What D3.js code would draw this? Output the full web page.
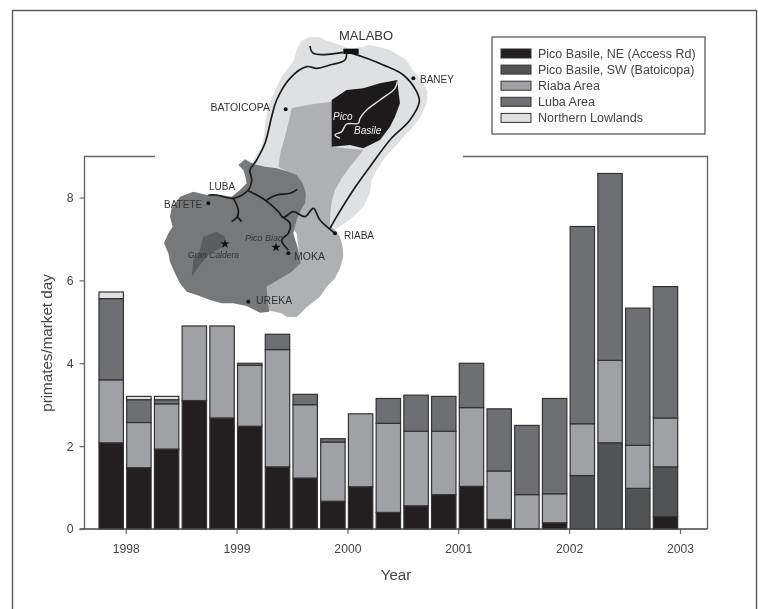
<!DOCTYPE html>
<html>
<head>
<meta charset="utf-8">
<script src="https://d3js.org/d3.v7.min.js"></script>
<style>
  html, body { margin: 0; padding: 0; background: #fff; }
  svg { display: block; filter: blur(0.6px); font-family: "Liberation Sans", Arial, sans-serif; }
</style>
</head>
<body>
<div id="chart"></div>
<script>
// quarter each bar starts at, one bar per 3 months
const quarters = [1997.75,
  1998, 1998.25, 1998.5, 1998.75,
  1999, 1999.25, 1999.5, 1999.75,
  2000, 2000.25, 2000.5, 2000.75,
  2001, 2001.25, 2001.5, 2001.75,
  2002, 2002.25, 2002.5, 2002.75];

const neAccess  = [2.08, 1.48, 1.93, 3.10, 2.68, 2.48, 1.50, 1.23, 0.67, 1.02, 0.40, 0.56, 0.83, 1.03, 0.23, 0, 0.15, 0, 0, 0, 0.30];
const swBatoi   = [0, 0, 0, 0, 0, 0, 0, 0, 0, 0, 0, 0, 0, 0, 0, 0, 0, 1.29, 2.08, 0.98, 1.20];
const riaba     = [1.52, 1.09, 1.09, 1.80, 2.22, 1.47, 2.83, 1.77, 1.43, 1.76, 2.15, 1.80, 1.53, 1.90, 1.17, 0.83, 0.70, 1.25, 1.99, 1.04, 1.18];
const luba      = [1.96, 0.55, 0.10, 0, 0, 0.05, 0.37, 0.25, 0.08, 0, 0.60, 0.87, 0.84, 1.07, 1.50, 1.67, 2.30, 4.76, 4.51, 3.31, 3.17];
const northern  = [0.16, 0.08, 0.08, 0, 0, 0, 0, 0, 0, 0, 0, 0, 0, 0, 0, 0, 0, 0, 0, 0, 0];

const seriesNames = ["Pico Basile, NE (Access Rd)", "Pico Basile, SW (Batoicopa)", "Riaba Area", "Luba Area", "Northern Lowlands"];
const seriesColors = ["#231f20", "#525355", "#a0a1a4", "#6e6f72", "#dfe0e2"];
const seriesValues = [neAccess, swBatoi, riaba, luba, northern];

const yearTicks = [1998, 1999, 2000, 2001, 2002, 2003];
const valueTicks = [0, 2, 4, 6, 8];

// map outlines
const lowlandsShape = [[440,88],[455,62],[480,50],[510,52],[530,62],[570,75],[600,88],[630,82],[660,75],[690,82],[720,90],[750,108],[770,120],[785,145],[800,165],[822,190],[832,215],[830,250],[815,285],[790,320],[765,345],[745,370],[720,395],[700,420],[680,450],[665,480],[660,520],[640,560],[610,590],[585,610],[560,625],[500,600],[400,500],[300,440],[318,405],[335,380],[342,345],[345,310],[352,275],[358,250],[380,200],[395,170],[410,150],[432,120]];
const riabaShape = [[425,265],[470,255],[510,250],[545,245],[545,380],[640,390],[600,440],[575,475],[555,510],[545,545],[540,590],[540,615],[555,630],[570,650],[578,680],[580,710],[570,745],[555,775],[530,800],[510,830],[485,850],[470,862],[440,892],[410,890],[395,880],[358,872],[350,800],[420,750],[450,720],[440,640],[410,600],[470,520],[440,470],[385,440],[392,395],[405,350],[415,310]];
const lubaShape = [[285,418],[310,432],[345,440],[380,445],[415,455],[440,465],[458,490],[468,520],[465,550],[450,575],[440,600],[430,640],[445,690],[452,730],[425,755],[400,770],[350,800],[358,875],[330,878],[290,858],[250,850],[215,850],[180,840],[140,825],[110,815],[90,790],[75,760],[60,725],[55,700],[42,670],[55,640],[68,620],[60,590],[65,565],[90,530],[130,515],[170,525],[210,525],[245,530],[270,510],[290,490],[285,465],[280,450],[265,435]];
const calderaShape = [[150,690],[160,650],[200,635],[225,650],[220,680],[180,700],[150,735],[125,770],[130,720]];
const picoShape = [[545,240],[590,210],[640,205],[690,190],[742,180],[745,210],[750,250],[735,290],[720,320],[690,360],[640,385],[600,375],[545,380]];

const roads = [
  [[590,95],[585,120],[540,135],[500,145],[470,140],[420,175],[380,240],[365,290],[345,370],[320,420],[300,450],[305,480],[295,510],[250,535],[200,525],[175,525]],
  [[590,95],[650,115],[700,135],[760,165],[800,215],[808,245],[780,300],[720,360],[660,440],[610,510],[560,590],[540,625]],
  [[480,78],[490,100],[580,97]],
  [[295,512],[345,540],[385,575],[400,592],[430,575],[465,590],[490,565],[510,600],[555,640]],
  [[350,540],[380,525],[420,520],[442,508]],
  [[395,590],[420,610],[415,640],[395,660],[415,690]],
  [[250,535],[265,570],[262,590],[245,605]],
  [[262,590],[275,605]]
];
const picoRoad = [[742,185],[735,205],[690,240],[650,270],[630,295],[625,310],[590,312],[575,335],[555,345],[570,355]];

const mapLabels = [
  { text: "MALABO", x: 366, y: 40, size: 13, anchor: "middle" },
  { text: "BANEY", x: 420, y: 83, size: 10, anchor: "start" },
  { text: "BATOICOPA", x: 270, y: 111, size: 10.5, anchor: "end" },
  { text: "LUBA", x: 209, y: 190, size: 10, anchor: "start" },
  { text: "BATETE", x: 164, y: 208, size: 10, anchor: "start" },
  { text: "RIABA", x: 344, y: 239, size: 10, anchor: "start" },
  { text: "MOKA", x: 294, y: 260, size: 10.5, anchor: "start" },
  { text: "UREKA", x: 256, y: 304, size: 10.5, anchor: "start" },
  { text: "Pico Biao", x: 245, y: 241, size: 9, anchor: "start", italic: true },
  { text: "Gran Caldera", x: 188, y: 258, size: 8.5, anchor: "start", italic: true },
  { text: "Pico", x: 333, y: 120, size: 10, anchor: "start", italic: true, fill: "#eee" },
  { text: "Basile", x: 354, y: 134, size: 10, anchor: "start", italic: true, fill: "#eee" }
];
const mapDots = [[407,268],[295,845],[415,700],[175,550],[555,640],[790,175]];
const mapStars = [[225,672],[378,682]];

const width = 758;
const height = 609;

const svg = d3.select("#chart").append("svg")
  .attr("width", width)
  .attr("height", height);

// scan edge of the page
svg.append("path")
  .attr("d", "M12.5,609V10.5H756.5V609")
  .attr("fill", "none")
  .attr("stroke", "#5a5a5a")
  .attr("stroke-width", 1.4);

const x = d3.scaleLinear().domain([1998, 2003]).range([125.7, 680]);
const y = d3.scaleLinear().domain([0, 8]).range([529, 197.5]);

const frameLeft = 84.5;
const frameRight = 707.5;
const frameTop = 156.5;
const axisColor = "#666";

// frame, broken at the top where the map sits
svg.append("path")
  .attr("d", `M${frameLeft},${y(0)}V${frameTop}H155M463,${frameTop}H${frameRight}V${y(0)}`)
  .attr("fill", "none")
  .attr("stroke", axisColor)
  .attr("stroke-width", 1.4);

const rows = quarters.map((q, i) => {
  const row = { quarter: q };
  seriesNames.forEach((name, s) => { row[name] = seriesValues[s][i]; });
  return row;
});
const stacked = d3.stack().keys(seriesNames)(rows);

stacked.forEach((layer, s) => {
  svg.append("g").selectAll("rect")
    .data(layer.filter(d => d[1] - d[0] > 0))
    .enter()
    .append("rect")
    .attr("x", d => x(d.data.quarter) + 1)
    .attr("width", d => x(d.data.quarter + 0.25) - x(d.data.quarter) - 3.3)
    .attr("y", d => y(d[1]))
    .attr("height", d => y(d[0]) - y(d[1]))
    .attr("fill", seriesColors[s])
    .attr("stroke", "#333")
    .attr("stroke-width", 1.2);
});

const xAxis = svg.append("g")
  .attr("transform", `translate(0,${y(0)})`)
  .call(d3.axisBottom(x).tickValues(yearTicks).tickFormat(d3.format("d")).tickSize(5).tickSizeOuter(0));
xAxis.select(".domain").remove();
xAxis.selectAll("line").attr("stroke", axisColor).attr("stroke-width", 1.2);
xAxis.selectAll("text")
  .attr("y", 15)
  .attr("fill", "#444")
  .style("font-family", "inherit")
  .style("font-size", "12.2px");

svg.append("line")
  .attr("x1", frameLeft - 5).attr("x2", frameRight)
  .attr("y1", y(0)).attr("y2", y(0))
  .attr("stroke", "#444")
  .attr("stroke-width", 1.4);

const yAxis = svg.append("g")
  .attr("transform", `translate(${frameLeft},0)`)
  .call(d3.axisLeft(y).tickValues(valueTicks).tickFormat(d3.format("d")).tickSize(5).tickSizeOuter(0));
yAxis.select(".domain").remove();
yAxis.selectAll("line").attr("stroke", axisColor).attr("stroke-width", 1.2);
yAxis.selectAll("text")
  .attr("x", -11)
  .attr("fill", "#444")
  .style("font-family", "inherit")
  .style("font-size", "12.2px");

svg.append("text")
  .attr("x", 396).attr("y", 580)
  .attr("text-anchor", "middle")
  .attr("fill", "#444")
  .style("font-size", "15px")
  .text("Year");

svg.append("text")
  .attr("transform", "translate(52,343) rotate(-90)")
  .attr("text-anchor", "middle")
  .attr("fill", "#444")
  .style("font-size", "15.2px")
  .text("primates/market day");

// map inset
const mapG = svg.append("g").attr("transform", "translate(150,20) scale(0.3333)");
const shapeLine = d3.line().curve(d3.curveLinearClosed);
const roadLine = d3.line().curve(d3.curveCatmullRom.alpha(0.5));

const shapes = [
  [lowlandsShape, "#dfe0e2"],
  [riabaShape, "#aeb0b2"],
  [lubaShape, "#77787a"],
  [calderaShape, "#5c5d60"],
  [picoShape, "#1c1a1b"]
];
shapes.forEach(([pts, fill]) => {
  mapG.append("path").attr("d", shapeLine(pts)).attr("fill", fill);
});

roads.forEach(pts => {
  mapG.append("path")
    .attr("d", roadLine(pts))
    .attr("fill", "none")
    .attr("stroke", "#1a1a1a")
    .attr("stroke-width", 5);
});
mapG.append("path")
  .attr("d", roadLine(picoRoad))
  .attr("fill", "none")
  .attr("stroke", "#e8e8e8")
  .attr("stroke-width", 4);

mapG.append("rect")
  .attr("x", 580).attr("y", 86).attr("width", 46).attr("height", 16)
  .attr("fill", "#111");

mapG.selectAll("circle.dot")
  .data(mapDots)
  .enter()
  .append("circle")
  .attr("class", "dot")
  .attr("cx", d => d[0]).attr("cy", d => d[1])
  .attr("r", 6)
  .attr("fill", "#111");

mapG.selectAll("path.star")
  .data(mapStars)
  .enter()
  .append("path")
  .attr("class", "star")
  .attr("d", d3.symbol().type(d3.symbolStar).size(240))
  .attr("transform", d => `translate(${d[0]},${d[1]})`)
  .attr("fill", "#111");

svg.append("g").selectAll("text")
  .data(mapLabels)
  .enter()
  .append("text")
  .attr("x", d => d.x).attr("y", d => d.y)
  .attr("text-anchor", d => d.anchor)
  .attr("fill", d => d.fill || "#333")
  .style("font-size", d => d.size + "px")
  .style("font-style", d => d.italic ? "italic" : "normal")
  .text(d => d.text);

// legend
const legend = svg.append("g");
legend.append("rect")
  .attr("x", 492).attr("y", 37).attr("width", 213).attr("height", 97)
  .attr("fill", "#fff")
  .attr("stroke", "#666")
  .attr("stroke-width", 1.4);

seriesNames.forEach((name, i) => {
  const rowY = 53.5 + i * 16.1;
  legend.append("rect")
    .attr("x", 501).attr("y", rowY - 4.5).attr("width", 30).attr("height", 9)
    .attr("fill", seriesColors[i])
    .attr("stroke", "#333")
    .attr("stroke-width", 1);
  legend.append("text")
    .attr("x", 538).attr("y", rowY + 4)
    .attr("fill", "#444")
    .style("font-size", "12.5px")
    .text(name);
});
</script>
</body>
</html>
